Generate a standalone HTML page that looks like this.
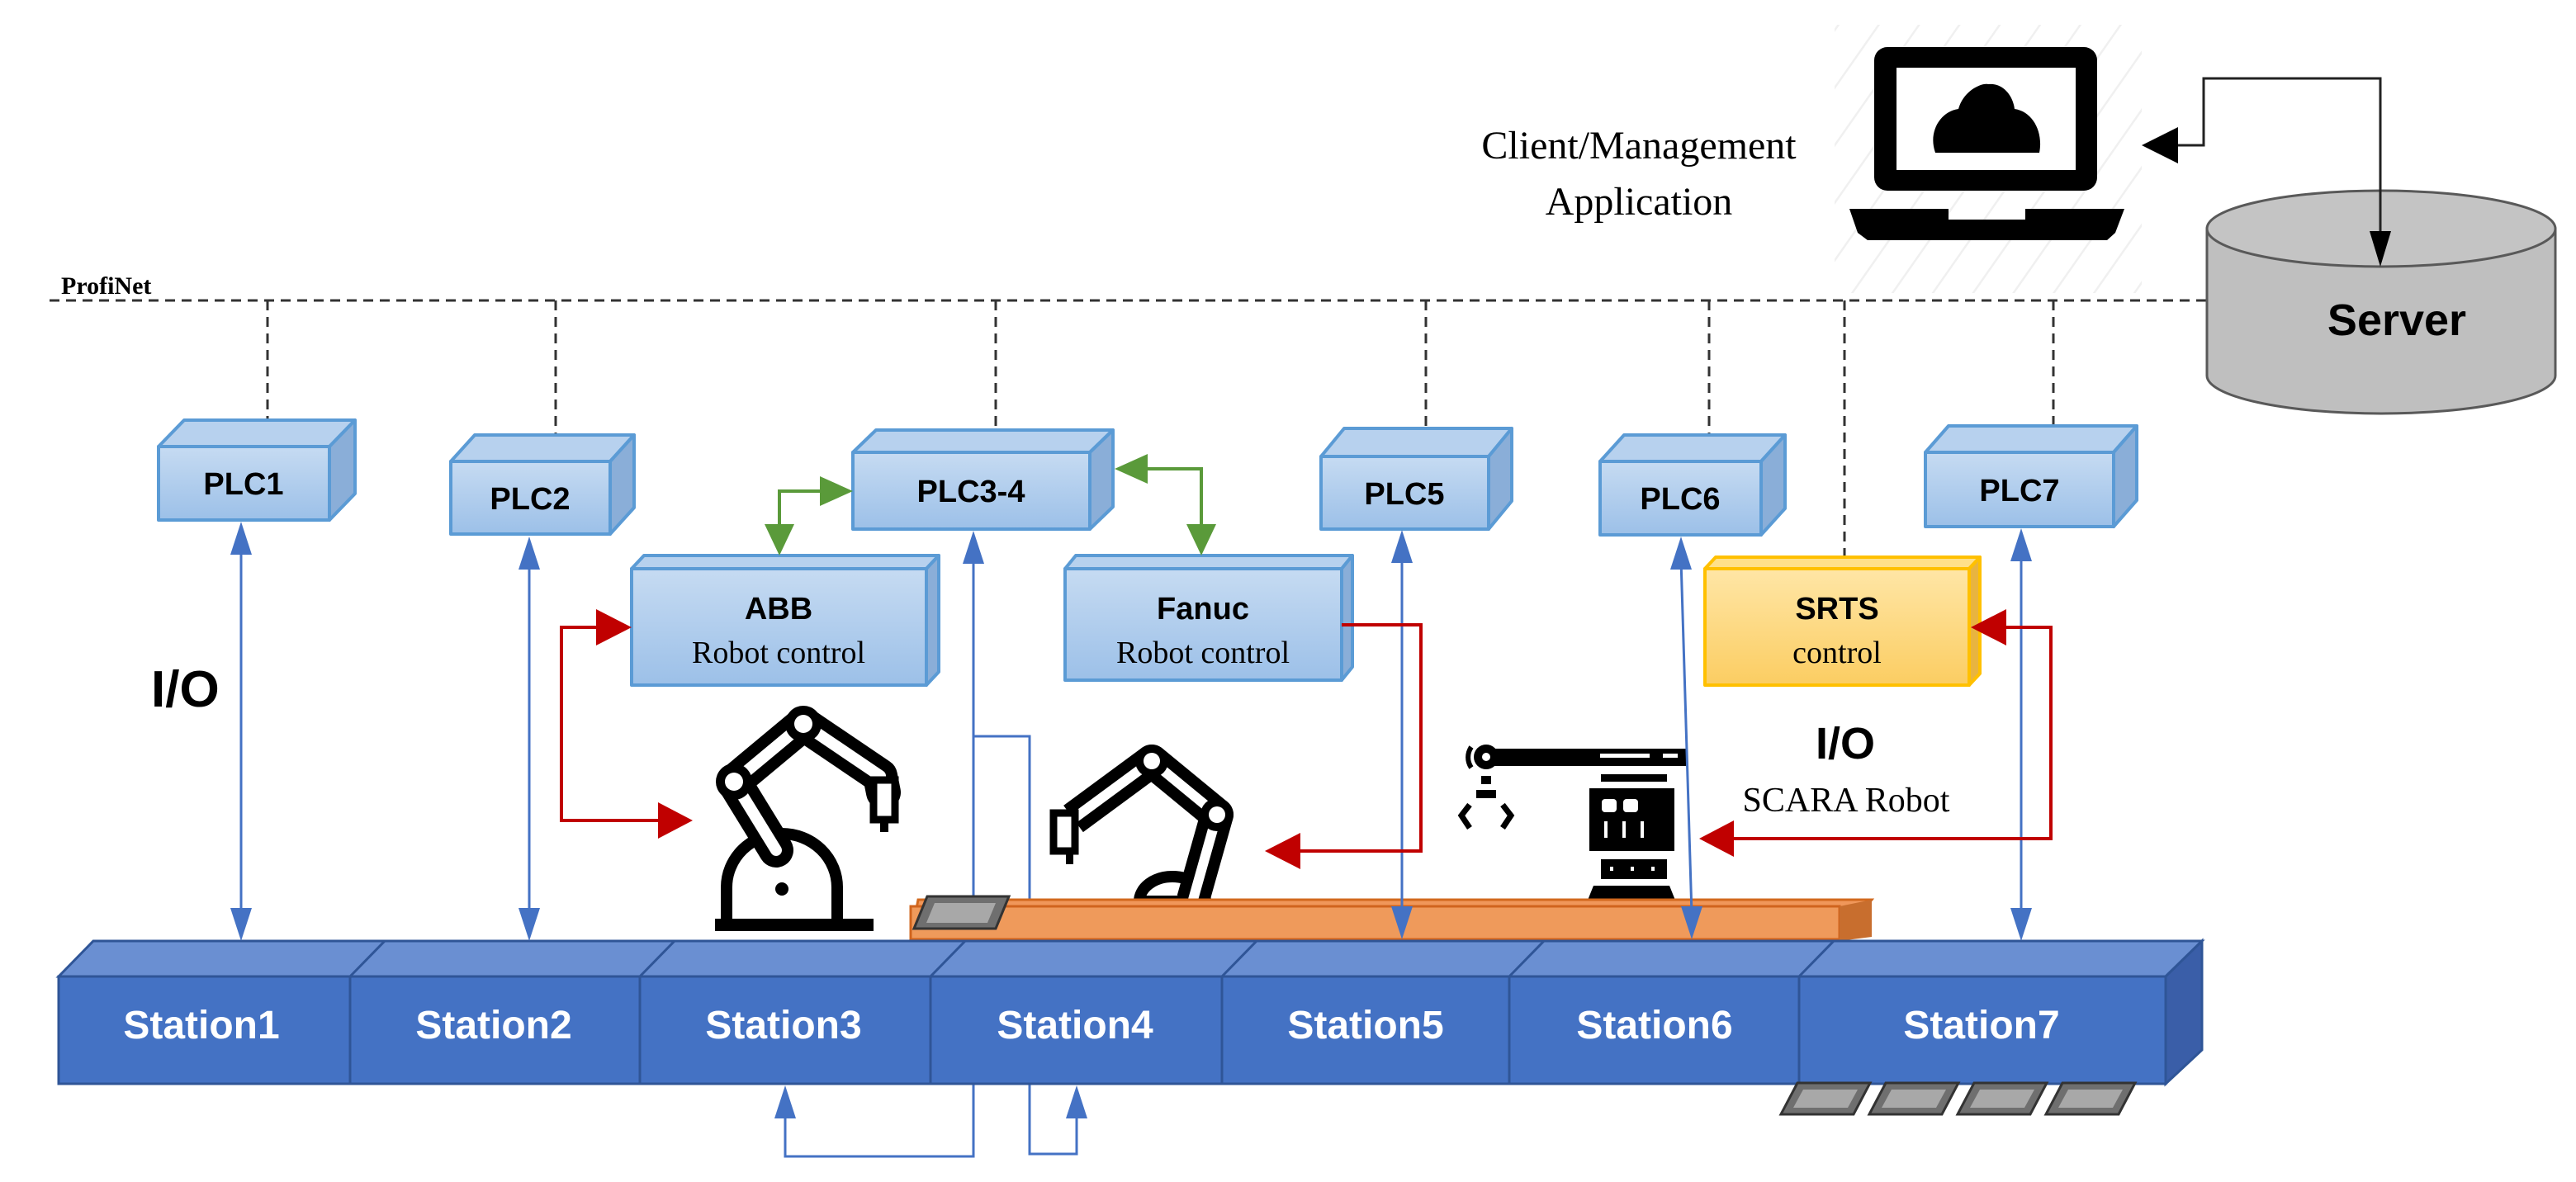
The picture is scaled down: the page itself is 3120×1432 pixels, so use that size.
<!DOCTYPE html>
<html><head><meta charset="utf-8"><style>
html,body{margin:0;padding:0;background:#fff;}
svg{display:block;}
.pl{font-family:"Liberation Sans",Arial,sans-serif;font-weight:bold;font-size:38px;text-anchor:middle;fill:#000;}
.sr{font-family:"Liberation Serif",serif;font-size:38px;text-anchor:middle;fill:#000;}
.st{font-family:"Liberation Sans",Arial,sans-serif;font-weight:bold;font-size:48px;text-anchor:middle;fill:#fff;}
</style></head><body>
<svg width="3120" height="1432" viewBox="0 0 3120 1432" xmlns="http://www.w3.org/2000/svg">
<defs>
<linearGradient id="bg" x1="0" y1="0" x2="0" y2="1"><stop offset="0" stop-color="#c6dbf2"/><stop offset="1" stop-color="#9cc0e8"/></linearGradient>
<linearGradient id="yg" x1="0" y1="0" x2="0" y2="1"><stop offset="0" stop-color="#ffe6a6"/><stop offset="1" stop-color="#fbcd62"/></linearGradient>
<pattern id="hatch" width="40" height="40" patternUnits="userSpaceOnUse" patternTransform="rotate(35)"><line x1="0" y1="0" x2="0" y2="40" stroke="#f0f0f0" stroke-width="5"/></pattern>
</defs>

<!-- ProfiNet -->
<text x="74" y="356" font-family="Liberation Serif,serif" font-weight="bold" font-size="30">ProfiNet</text>
<g stroke="#333" stroke-width="3" stroke-dasharray="12,8" fill="none">
<line x1="60" y1="364" x2="2673" y2="364"/>
<line x1="324" y1="364" x2="324" y2="512"/>
<line x1="673" y1="364" x2="673" y2="530"/>
<line x1="1206" y1="364" x2="1206" y2="524"/>
<line x1="1727" y1="364" x2="1727" y2="522"/>
<line x1="2070" y1="364" x2="2070" y2="530"/>
<line x1="2234" y1="364" x2="2234" y2="678"/>
<line x1="2487" y1="364" x2="2487" y2="519"/>
</g>

<!-- laptop -->
<rect x="2222" y="30" width="372" height="325" fill="url(#hatch)"/>
<rect x="2270" y="57" width="270" height="174" rx="16" fill="#000"/>
<rect x="2297" y="82" width="217" height="124" fill="#fff"/>
<path d="M2344,185 C2335,160 2350,135 2372,132 C2378,110 2400,100 2408,102 C2425,100 2438,115 2440,132 C2462,135 2475,160 2470,185 Z" fill="#000"/>
<path d="M2240,253 L2360,253 L2360,266 L2453,266 L2453,253 L2573,253 L2562,282 L2552,291 L2262,291 L2250,282 Z" fill="#000"/>
<text x="1985" y="192" font-family="Liberation Serif,serif" font-size="48" text-anchor="middle">Client/Management</text>
<text x="1985" y="260" font-family="Liberation Serif,serif" font-size="48" text-anchor="middle">Application</text>

<!-- server -->
<path d="M2673,277 L2673,455 A211,46 0 0 0 3095,455 L3095,277 Z" fill="#bfbfbf" stroke="#595959" stroke-width="3"/>
<ellipse cx="2884" cy="277" rx="211" ry="46" fill="#c4c4c4" stroke="#595959" stroke-width="3"/>
<text x="2903" y="406" font-family="Liberation Sans,Arial,sans-serif" font-weight="bold" font-size="54" text-anchor="middle">Server</text>
<polyline points="2620,176 2669,176 2669,95 2883,95 2883,290" fill="none" stroke="#222" stroke-width="3"/>
<polygon points="2594,176 2638,154 2638,198" fill="#000"/>
<polygon points="2870,280 2896,280 2883,323" fill="#000"/>

<!-- PLC boxes -->
<g stroke="#5b9bd5" stroke-width="4" stroke-linejoin="round">
<polygon points="192,541 223,509 430,509 399,541" fill="#b7d1ee"/>
<polygon points="399,541 430,509 430,598 399,630" fill="#8aaed8"/>
<rect x="192" y="541" width="207" height="89" fill="url(#bg)"/>
<polygon points="546,559 575,527 768,527 739,559" fill="#b7d1ee"/>
<polygon points="739,559 768,527 768,615 739,647" fill="#8aaed8"/>
<rect x="546" y="559" width="193" height="88" fill="url(#bg)"/>
<polygon points="1033,548 1061,521 1348,521 1320,548" fill="#b7d1ee"/>
<polygon points="1320,548 1348,521 1348,614 1320,641" fill="#8aaed8"/>
<rect x="1033" y="548" width="287" height="93" fill="url(#bg)"/>
<polygon points="765,689 780,673 1137,673 1122,689" fill="#b7d1ee"/>
<polygon points="1122,689 1137,673 1137,814 1122,830" fill="#8aaed8"/>
<rect x="765" y="689" width="357" height="141" fill="url(#bg)"/>
<polygon points="1290,689 1303,673 1638,673 1625,689" fill="#b7d1ee"/>
<polygon points="1625,689 1638,673 1638,808 1625,824" fill="#8aaed8"/>
<rect x="1290" y="689" width="335" height="135" fill="url(#bg)"/>
<polygon points="1600,553 1628,519 1831,519 1803,553" fill="#b7d1ee"/>
<polygon points="1803,553 1831,519 1831,607 1803,641" fill="#8aaed8"/>
<rect x="1600" y="553" width="203" height="88" fill="url(#bg)"/>
<polygon points="1938,559 1967,527 2162,527 2133,559" fill="#b7d1ee"/>
<polygon points="2133,559 2162,527 2162,616 2133,648" fill="#8aaed8"/>
<rect x="1938" y="559" width="195" height="89" fill="url(#bg)"/>
<polygon points="2332,548 2360,516 2588,516 2560,548" fill="#b7d1ee"/>
<polygon points="2560,548 2588,516 2588,606 2560,638" fill="#8aaed8"/>
<rect x="2332" y="548" width="228" height="90" fill="url(#bg)"/>
</g>
<g stroke="#ffc000" stroke-width="4" stroke-linejoin="round">
<polygon points="2065,689 2078,675 2398,675 2385,689" fill="#ffe08a"/>
<polygon points="2385,689 2398,675 2398,816 2385,830" fill="#e8b440"/>
<rect x="2065" y="689" width="320" height="141" fill="url(#yg)"/>
</g>
<text class="pl" x="295" y="599">PLC1</text>
<text class="pl" x="642" y="617">PLC2</text>
<text class="pl" x="1176" y="608">PLC3-4</text>
<text class="pl" x="1701" y="611">PLC5</text>
<text class="pl" x="2035" y="617">PLC6</text>
<text class="pl" x="2446" y="607">PLC7</text>
<text class="pl" x="943" y="750">ABB</text>
<text class="sr" x="943" y="803">Robot control</text>
<text class="pl" x="1457" y="750">Fanuc</text>
<text class="sr" x="1457" y="803">Robot control</text>
<text class="pl" x="2225" y="750">SRTS</text>
<text class="sr" x="2225" y="803">control</text>

<!-- labels -->
<text x="183" y="856" font-family="Liberation Sans,Arial,sans-serif" font-weight="bold" font-size="62">I/O</text>
<text x="2199" y="919" font-family="Liberation Sans,Arial,sans-serif" font-weight="bold" font-size="54">I/O</text>
<text x="2236" y="983" font-family="Liberation Serif,serif" font-size="42" text-anchor="middle">SCARA  Robot</text>

<!-- ABB robot -->
<g>
<rect x="866" y="1113" width="192" height="15" fill="#000"/>
<path d="M880,1113 L880,1075 A67,65 0 0 1 1014,1075 L1014,1113" fill="#fff" stroke="#000" stroke-width="14"/>
<circle cx="947" cy="1077" r="8" fill="#000"/>
<polyline points="940,1030 889,947 973,877 1066,940 1070,960" fill="none" stroke="#000" stroke-width="42" stroke-linejoin="round" stroke-linecap="round"/>
<polyline points="940,1030 889,947 973,877 1066,940" fill="none" stroke="#fff" stroke-width="14" stroke-linejoin="round" stroke-linecap="round"/>
<circle cx="889" cy="947" r="22" fill="#000"/><circle cx="889" cy="947" r="11" fill="#fff"/>
<circle cx="973" cy="877" r="22" fill="#000"/><circle cx="973" cy="877" r="11" fill="#fff"/>
<rect x="1058" y="945" width="26" height="48" fill="#fff" stroke="#000" stroke-width="9"/>
<rect x="1066" y="993" width="10" height="15" fill="#000"/>
</g>

<!-- Fanuc robot -->
<g>
<path d="M1380,1092 A40,30 0 0 1 1460,1092 Z" fill="#fff" stroke="#000" stroke-width="14"/>
<polyline points="1445,1090 1474,987 1395,922 1300,992" fill="none" stroke="#000" stroke-width="40" stroke-linejoin="round"/>
<polyline points="1445,1090 1474,987 1395,922 1300,992" fill="none" stroke="#fff" stroke-width="12" stroke-linejoin="round"/>
<circle cx="1395" cy="922" r="20" fill="#000"/><circle cx="1395" cy="922" r="10" fill="#fff"/>
<circle cx="1474" cy="987" r="20" fill="#000"/><circle cx="1474" cy="987" r="10" fill="#fff"/>
<rect x="1276" y="985" width="26" height="46" fill="#fff" stroke="#000" stroke-width="9"/>
<rect x="1291" y="1031" width="9" height="16" fill="#000"/>
</g>

<!-- SCARA robot -->
<g fill="#000">
<rect x="1800" y="907" width="243" height="21"/>
<rect x="1938" y="913" width="60" height="5" fill="#fff"/>
<rect x="2014" y="913" width="18" height="5" fill="#fff"/>
<circle cx="1800" cy="917" r="15"/><circle cx="1800" cy="917" r="5" fill="#fff"/>
<path d="M1782,905 A22,22 0 0 0 1782,930" stroke="#000" stroke-width="6" fill="none"/>
<rect x="1794" y="940" width="12" height="10"/>
<rect x="1788" y="957" width="24" height="10"/>
<path d="M1780,975 L1770,988 L1780,1003 M1820,975 L1830,988 L1820,1003" stroke="#000" stroke-width="7" fill="none"/>
<rect x="1939" y="938" width="80" height="9"/>
<rect x="1925" y="955" width="103" height="76"/>
<rect x="1940" y="968" width="18" height="16" rx="4" fill="#fff"/><rect x="1966" y="968" width="18" height="16" rx="4" fill="#fff"/>
<rect x="1943" y="995" width="4" height="20" fill="#fff"/><rect x="1965" y="995" width="4" height="20" fill="#fff"/><rect x="1987" y="995" width="4" height="20" fill="#fff"/>
<rect x="1939" y="1041" width="80" height="24"/>
<rect x="1950" y="1050" width="4" height="5" fill="#fff"/><rect x="1975" y="1050" width="4" height="5" fill="#fff"/><rect x="2000" y="1050" width="4" height="5" fill="#fff"/>
<polygon points="1930,1073 2022,1073 2030,1093 1922,1093"/>
<rect x="1922" y="1098" width="108" height="8"/>
</g>

<!-- PLC3-4 blue lines (behind conveyor/stations) -->
<g stroke="#4472c4" stroke-width="3" fill="none">
<polyline points="1179,670 1179,1401 951,1401 951,1345"/>
<polyline points="1179,892 1247,892 1247,1398 1304,1398 1304,1345"/>
</g>

<!-- orange conveyor -->
<polygon points="1103,1138 1112,1090 2267,1090 2228,1138" fill="#f0975a" stroke="#d2691e" stroke-width="3"/>
<rect x="1103" y="1098" width="1125" height="40" fill="#ef9a5b" stroke="#d0641e" stroke-width="3"/>
<polygon points="2228,1098 2267,1090 2267,1135 2228,1140" fill="#c86e2e"/>
<polygon points="1107,1125 1123,1086 1222,1086 1206,1125" fill="#6f6f6f" stroke="#333" stroke-width="3"/>
<polygon points="1122,1118 1132,1094 1206,1094 1196,1118" fill="#a8a8a8"/>

<!-- stations -->
<polygon points="71,1183 113,1140 2667,1140 2623,1183" fill="#6a8fd2" stroke="#2f5597" stroke-width="3"/>
<rect x="71" y="1183" width="2552" height="130" fill="#4472c4" stroke="#2f5597" stroke-width="3"/>
<polygon points="2623,1183 2667,1140 2667,1272 2623,1313" fill="#3a5ea8" stroke="#2f5597" stroke-width="3"/>
<g stroke="#2f5597" stroke-width="3">
<line x1="424" y1="1183" x2="424" y2="1313"/><line x1="424" y1="1183" x2="466" y2="1140"/>
<line x1="775" y1="1183" x2="775" y2="1313"/><line x1="775" y1="1183" x2="817" y2="1140"/>
<line x1="1127" y1="1183" x2="1127" y2="1313"/><line x1="1127" y1="1183" x2="1169" y2="1140"/>
<line x1="1480" y1="1183" x2="1480" y2="1313"/><line x1="1480" y1="1183" x2="1522" y2="1140"/>
<line x1="1828" y1="1183" x2="1828" y2="1313"/><line x1="1828" y1="1183" x2="1870" y2="1140"/>
<line x1="2179" y1="1183" x2="2179" y2="1313"/><line x1="2179" y1="1183" x2="2221" y2="1140"/>
</g>
<text class="st" x="244" y="1258">Station1</text>
<text class="st" x="598" y="1258">Station2</text>
<text class="st" x="949" y="1258">Station3</text>
<text class="st" x="1302" y="1258">Station4</text>
<text class="st" x="1654" y="1258">Station5</text>
<text class="st" x="2004" y="1258">Station6</text>
<text class="st" x="2400" y="1258">Station7</text>
<g stroke="#333" stroke-width="3">
<polygon points="2157,1350 2177,1312 2265,1312 2245,1350" fill="#6f6f6f"/>
<polygon points="2264,1350 2284,1312 2372,1312 2352,1350" fill="#6f6f6f"/>
<polygon points="2371,1350 2391,1312 2479,1312 2459,1350" fill="#6f6f6f"/>
<polygon points="2478,1350 2498,1312 2586,1312 2566,1350" fill="#6f6f6f"/>
</g>
<g fill="#a8a8a8">
<polygon points="2172,1342 2184,1320 2250,1320 2238,1342"/>
<polygon points="2279,1342 2291,1320 2357,1320 2345,1342"/>
<polygon points="2386,1342 2398,1320 2464,1320 2452,1342"/>
<polygon points="2493,1342 2505,1320 2571,1320 2559,1342"/>
</g>

<!-- blue connectors -->
<g stroke="#4472c4" stroke-width="3" fill="none">
<line x1="292" y1="660" x2="292" y2="1110"/>
<line x1="641" y1="676" x2="641" y2="1110"/>
<line x1="1698" y1="670" x2="1698" y2="1108"/>
<line x1="2036" y1="678" x2="2049" y2="1108"/>
<line x1="2448" y1="668" x2="2448" y2="1110"/>
</g>
<g fill="#4472c4">
<polygon points="279,672 292,632 305,672"/><polygon points="279,1100 292,1140 305,1100"/>
<polygon points="628,690 641,650 654,690"/><polygon points="628,1100 641,1140 654,1100"/>
<polygon points="1166,683 1179,643 1192,683"/>
<polygon points="938,1355 951,1315 964,1355"/><polygon points="1291,1355 1304,1315 1317,1355"/>
<polygon points="1685,682 1698,642 1711,682"/><polygon points="1685,1098 1698,1138 1711,1098"/>
<polygon points="2023,690 2036,650 2049,690"/><polygon points="2036,1098 2049,1138 2062,1098"/>
<polygon points="2435,680 2448,640 2461,680"/><polygon points="2435,1100 2448,1140 2461,1100"/>
</g>

<!-- green connectors -->
<g stroke="#5a9a3a" stroke-width="4" fill="none">
<polyline points="1000,595 944,595 944,640"/>
<polyline points="1390,568 1455,568 1455,640"/>
</g>
<g fill="#5a9a3a">
<polygon points="993,577 1033,595 993,613"/><polygon points="926,635 962,635 944,673"/>
<polygon points="1390,550 1350,568 1390,586"/><polygon points="1437,635 1473,635 1455,673"/>
</g>

<!-- red connectors -->
<g stroke="#c00000" stroke-width="4" fill="none">
<polyline points="728,760 680,760 680,994 800,994"/>
<polyline points="1625,757 1721,757 1721,1031 1570,1031"/>
<polyline points="2425,760 2484,760 2484,1016 2095,1016"/>
</g>
<g fill="#c00000">
<polygon points="722,738 765,760 722,782"/>
<polygon points="797,972 839,994 797,1016"/>
<polygon points="1575,1009 1532,1031 1575,1053"/>
<polygon points="2430,738 2387,760 2430,782"/>
<polygon points="2100,994 2058,1016 2100,1038"/>
</g>
</svg>
</body></html>
